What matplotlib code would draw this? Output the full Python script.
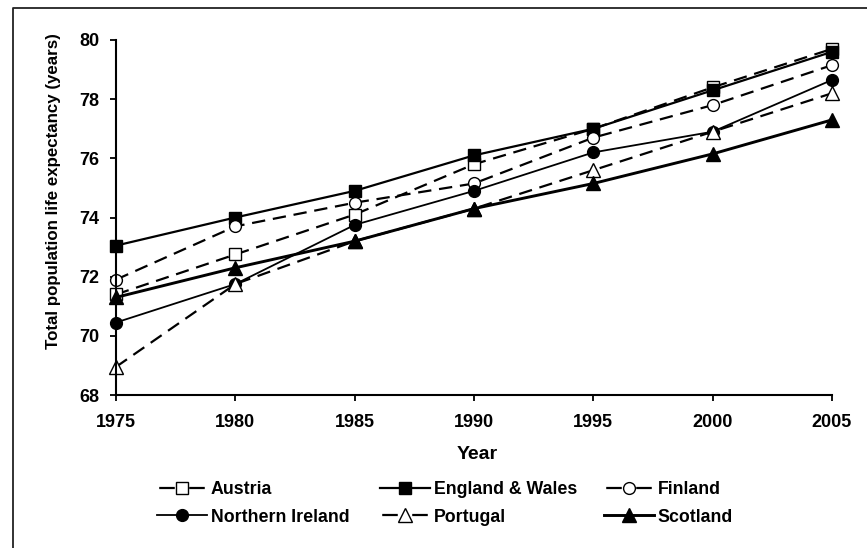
import matplotlib
matplotlib.use("Agg")
import matplotlib.pyplot as plt
from matplotlib.lines import Line2D

plt.rcParams['font.family'] = ['Liberation Sans', 'DejaVu Sans']
plt.rcParams['font.weight'] = 'bold'

years = [1975, 1980, 1985, 1990, 1995, 2000, 2005]
austria = [71.4, 72.75, 74.1, 75.8, 77.0, 78.4, 79.7]
england_wales = [73.05, 74.0, 74.9, 76.1, 77.0, 78.3, 79.6]
finland = [71.9, 73.7, 74.5, 75.15, 76.7, 77.8, 79.15]
northern_ireland = [70.45, 71.75, 73.75, 74.9, 76.2, 76.9, 78.65]
portugal = [68.95, 71.75, 73.2, 74.3, 75.6, 76.9, 78.2]
scotland = [71.3, 72.3, 73.2, 74.3, 75.15, 76.15, 77.3]

yticks = [68, 70, 72, 74, 76, 78, 80]
xticks = [1975, 1980, 1985, 1990, 1995, 2000, 2005]

fig = plt.figure(figsize=(8.67, 5.48), dpi=100)
ax = fig.add_axes([116/867, 1-395/548, (832-116)/867, (395-40)/548])

dash = (6, 3.5)
styles = [
    ("Austria", austria, dict(ls='--', dashes=dash, lw=1.6, marker='s', ms=8, mfc='white', mec='black', mew=1.0)),
    ("England & Wales", england_wales, dict(ls='-', lw=1.6, marker='s', ms=8, mfc='black', mec='black')),
    ("Finland", finland, dict(ls='--', dashes=dash, lw=1.6, marker='o', ms=8.5, mfc='white', mec='black', mew=1.0)),
    ("Northern Ireland", northern_ireland, dict(ls='-', lw=1.3, marker='o', ms=8.5, mfc='black', mec='black')),
    ("Portugal", portugal, dict(ls='--', dashes=dash, lw=1.6, marker='^', ms=9.5, mfc='white', mec='black', mew=1.0)),
    ("Scotland", scotland, dict(ls='-', lw=2.1, marker='^', ms=9.5, mfc='black', mec='black')),
]

handles = {}
for name, vals, kw in styles:
    ax.plot(years, vals, color='black', label=name, clip_on=False, **kw)
    # legend proxy: dashed series shown as short segments either side of the marker
    pkw = dict(kw)
    if pkw.get('ls') == '--':
        pkw.pop('dashes')
        pkw['ls'] = (12.5, (7, 6.5))
    handles[name] = Line2D([], [], color='black', **pkw)

ax.set_xlim(1975, 2005)
ax.set_ylim(68, 80)
ax.set_xticks(xticks)
ax.set_yticks(yticks)
ax.set_xticklabels([str(x) for x in xticks], fontsize=13, fontweight='bold')
ax.set_yticklabels([str(y) for y in yticks], fontsize=13, fontweight='bold')
ax.tick_params(axis='both', direction='out', length=4, width=1.3, color='black')
ax.tick_params(axis='x', pad=10)
ax.tick_params(axis='y', pad=8)
for s in ['top', 'right']:
    ax.spines[s].set_visible(False)
for s in ['left', 'bottom']:
    ax.spines[s].set_linewidth(1.5)

ax.set_xlabel("Year", fontsize=14, fontweight='bold')
ax.xaxis.set_label_coords(0.504, -0.143)
ax.set_ylabel("Total population life expectancy (years)", fontsize=12.2, fontweight='bold')
ax.yaxis.set_label_coords(-0.077, 0.575)

# legend: three columns placed separately
cols = [["Austria", "Northern Ireland"], ["England & Wales", "Portugal"], ["Finland", "Scotland"]]
xpos = [157, 380, 604]
for names, xp in zip(cols, xpos):
    leg = fig.legend([handles[n] for n in names], names, loc='upper left',
                     bbox_to_anchor=(xp/867, 1-481/548), frameon=False,
                     fontsize=12.8, handlelength=2.8, handletextpad=0.22,
                     labelspacing=0.6, borderpad=0, borderaxespad=0)
    for t in leg.get_texts():
        t.set_fontweight('bold')

# image frame (left and top border)
fig.add_artist(Line2D([12.5/867, 12.5/867, 1.0], [0.0, 1-8/548, 1-8/548],
                      transform=fig.transFigure, color='#222222', lw=1.3))

fig.savefig("out.png", dpi=100)
